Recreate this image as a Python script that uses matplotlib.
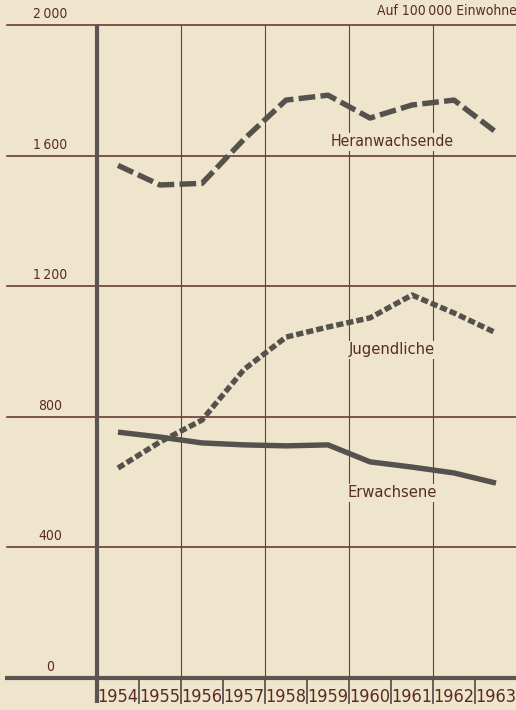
import matplotlib
matplotlib.use("Agg")
import matplotlib.pyplot as plt

# ---- data ----
years = [1954, 1955, 1956, 1957, 1958, 1959, 1960, 1961, 1962, 1963]
heranwachsende = [1570, 1510, 1515, 1650, 1770, 1785, 1715, 1755, 1770, 1672]
jugendliche = [643, 723, 790, 945, 1044, 1075, 1103, 1173, 1118, 1057]
erwachsene = [753, 738, 720, 714, 711, 714, 662, 646, 628, 597]
y_ticks = [0, 400, 800, 1200, 1600, 2000]
y_tick_labels = ["0", "400", "800", "1200", "1600", "2000"]
series_labels = ["Heranwachsende", "Jugendliche", "Erwachsene"]
unit_text = "Auf 100\u2009000 Einwohner"

# ---- style ----
plt.rcParams["font.family"] = ["DejaVu Sans"]
plt.rcParams["font.stretch"] = "condensed"
plt.rcParams["lines.scale_dashes"] = False

BG = "#eee5cc"
GRID_H = "#5e2c28"
GRID_V = "#6b3c48"
TXT = "#5a2a24"
LINE = "#55514c"
AXIS = "#5b5450"

W, H = 516, 710
fig = plt.figure(figsize=(W / 100, H / 100), dpi=100, facecolor=BG)
left_px, right_px, top_px, bot_px = 97, 516, 25, 678
ax = fig.add_axes([left_px / W, 1 - bot_px / H, (right_px - left_px) / W, (bot_px - top_px) / H])
ax.set_facecolor(BG)
x0 = years[0] - 0.5
ax.set_xlim(x0, x0 + (right_px - left_px) / 42.0)
ax.set_ylim(0, 2000)
for s in ax.spines.values():
    s.set_visible(False)
ax.set_xticks([])
ax.set_yticks([])

ytr = ax.get_yaxis_transform()
xtr = ax.get_xaxis_transform()
span = float(right_px - left_px)
ext_left = -(left_px - 7) / span

# horizontal grid lines + y labels
for v, lab in zip(y_ticks, y_tick_labels):
    if v == 0:
        ax.plot([-(left_px - 5) / span, 1.02], [v, v], transform=ytr,
                color=AXIS, lw=3.0, clip_on=False, zorder=3, solid_capstyle="butt")
    else:
        ax.plot([ext_left, 1.02], [v, v], transform=ytr, color=GRID_H, lw=1.1,
                clip_on=False, zorder=1)
    disp = lab if len(lab) < 4 else lab[0] + "\u2009" + lab[1:]
    ax.text(-(left_px - 50) / span, v + 12, disp, transform=ytr,
            ha="center", va="bottom", fontsize=10, color=TXT, clip_on=False)

# vertical grid lines every two years
for b in [1955.5, 1957.5, 1959.5, 1961.5]:
    ax.plot([b, b], [0, 2000], color=GRID_V, lw=0.8, zorder=1)

# main vertical axis
ax.plot([x0, x0], [1.0, -(703 - bot_px) / (bot_px - top_px)], transform=xtr,
        color=AXIS, lw=3.0, clip_on=False, zorder=4, solid_capstyle="butt")

# year separators and labels
for yr in years:
    b = yr + 0.5
    if b < x0 + span / 42.0:
        ax.plot([b, b], [0, -(703 - bot_px) / (bot_px - top_px)], transform=xtr,
                color=AXIS, lw=1.3, clip_on=False, zorder=3)
    ax.text(yr, -(697 - bot_px) / (bot_px - top_px), str(yr), transform=xtr,
            ha="center", va="center", fontsize=13, color=TXT, clip_on=False)

# data lines
ax.plot(years, heranwachsende, color=LINE, lw=3.9, dashes=(12, 3.8),
        dash_capstyle="butt", zorder=5)
ax.plot(years, jugendliche, color=LINE, lw=3.9, dashes=(5.2, 2.2),
        dash_capstyle="butt", zorder=5)
ax.plot(years, erwachsene, color=LINE, lw=3.9, solid_capstyle="butt", zorder=5)

# series labels
label_x = x0 + (392 - left_px) / 42.0
box = dict(facecolor=BG, edgecolor="none", pad=1.0)
ax.text(label_x, 1642, series_labels[0], ha="center", va="center", fontsize=11.3,
        color=TXT, bbox=box, zorder=6)
ax.text(label_x, 1005, series_labels[1], ha="center", va="center", fontsize=11.8,
        color=TXT, bbox=box, zorder=6)
ax.text(label_x, 567, series_labels[2], ha="center", va="center", fontsize=11.8,
        color=TXT, bbox=box, zorder=6)

# unit text (cut at the right edge as in the original)
fig.text(377 / W, 1 - 11 / H, unit_text, ha="left", va="center", fontsize=10, color=TXT)

fig.savefig("out.png", dpi=100, facecolor=BG)
